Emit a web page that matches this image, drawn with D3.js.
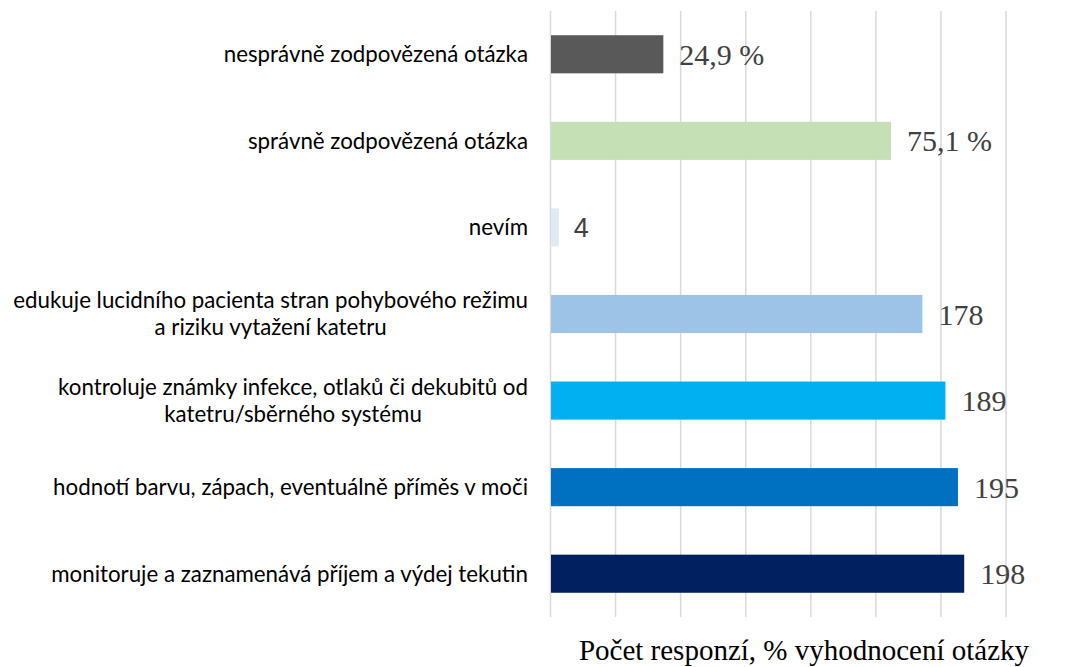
<!DOCTYPE html>
<html><head><meta charset="utf-8">
<script src="https://cdn.jsdelivr.net/npm/d3@7"></script>
<style>body{margin:0;background:#fff;} svg{display:block;}</style>
</head><body>
<svg id="c" width="1067" height="667"></svg>
<script>
const categories = [
  ["nesprávně zodpovězená otázka"],
  ["správně zodpovězená otázka"],
  ["nevím"],
  ["edukuje lucidního pacienta stran pohybového režimu", "a riziku vytažení katetru"],
  ["kontroluje známky infekce, otlaků či dekubitů od", "katetru/sběrného systému"],
  ["hodnotí barvu, zápach, eventuálně příměs v moči"],
  ["monitoruje a zaznamenává příjem a výdej tekutin"]
];
const values = [54, 163, 4, 178, 189, 195, 198];
const valueLabels = ["24,9 %", "75,1 %", "4", "178", "189", "195", "198"];
const colors = ["#595959", "#c5e0b4", "#deebf7", "#9dc3e6", "#00b0f0", "#0070c0", "#002060"];
const axisMax = 218;
const gridCount = 7;
const axisTitle = "Počet responzí, % vyhodnocení otázky";

const svg = d3.select("#c");
const x = d3.scaleLinear().domain([0, axisMax]).range([550.5, 1006]);
const y = d3.scaleBand().domain(d3.range(categories.length)).range([11, 617]).paddingInner(0.56).paddingOuter(0.28);

const gridVals = d3.range(gridCount + 1).map(i => i * axisMax / gridCount);
svg.append("g").selectAll("line").data(gridVals).join("line")
  .attr("x1", d => x(d)).attr("x2", d => x(d))
  .attr("y1", 11).attr("y2", 617)
  .attr("stroke", "#d9d9d9").attr("stroke-width", 1.5);

svg.append("g").selectAll("rect").data(values).join("rect")
  .attr("x", x(0) + 0.5)
  .attr("y", (d, i) => y(i))
  .attr("width", d => x(d) - x(0) - 0.5)
  .attr("height", y.bandwidth())
  .attr("fill", (d, i) => colors[i]);

svg.append("g").selectAll("text").data(values).join("text")
  .attr("x", d => x(d) + (d < 10 ? 15 : 16))
  .attr("y", (d, i) => y(i) + y.bandwidth() / 2)
  .attr("dy", "0.35em")
  .attr("font-family", (d, i) => i === 2 ? "Liberation Sans, Arial, sans-serif" : "Liberation Serif, Times New Roman, serif")
  .attr("font-size", (d, i) => i === 2 ? 27 : 30)
  .attr("fill", "#404040")
  .text((d, i) => valueLabels[i]);

const lbl = svg.append("g");
categories.forEach((lines, i) => {
  const cy = y(i) + y.bandwidth() / 2;
  const lh = 27;
  const t = lbl.append("text")
    .attr("font-family", "Lato, Carlito, sans-serif")
    .attr("font-size", 22.3)
    .attr("fill", "#000")
    .attr("text-anchor", "middle");
  lines.forEach((s, k) => {
    t.append("tspan").attr("x", 0).attr("y", cy + (k - (lines.length - 1) / 2) * lh).attr("dy", "0.35em").text(s);
  });
  const w = t.node().getBBox().width;
  t.attr("transform", `translate(${528 - w / 2},0)`);
});

svg.append("text")
  .attr("x", 804).attr("y", 660)
  .attr("text-anchor", "middle")
  .attr("font-family", "Liberation Serif, Times New Roman, serif")
  .attr("font-size", 29)
  .attr("fill", "#000")
  .text(axisTitle);
</script>
</body></html>
